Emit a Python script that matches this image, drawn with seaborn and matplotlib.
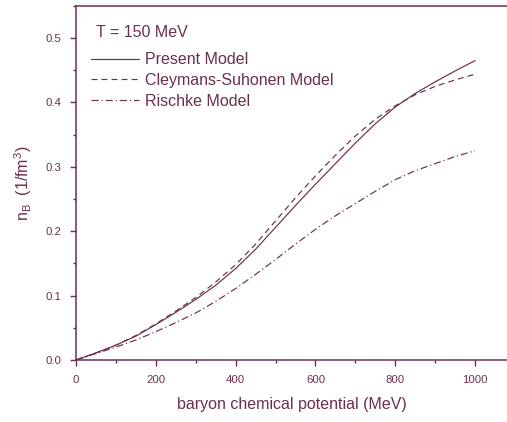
import pandas as pd
import seaborn as sns
import matplotlib.pyplot as plt
from matplotlib.ticker import MultipleLocator

# valores (T = 150 MeV)
mu = [0, 50, 100, 150, 200, 250, 300, 350, 400, 450, 500,
      550, 600, 650, 700, 750, 800, 850, 900, 950, 1000]
present = [0.000, 0.011, 0.023, 0.037, 0.055, 0.074, 0.094, 0.116, 0.142, 0.172, 0.206,
           0.240, 0.273, 0.305, 0.337, 0.367, 0.393, 0.414, 0.432, 0.449, 0.465]
cleymans = [0.000, 0.011, 0.023, 0.038, 0.056, 0.076, 0.097, 0.121, 0.148, 0.180, 0.216,
            0.252, 0.286, 0.318, 0.348, 0.374, 0.395, 0.412, 0.425, 0.435, 0.444]
rischke = [0.000, 0.010, 0.020, 0.031, 0.044, 0.058, 0.073, 0.091, 0.111, 0.133, 0.156,
           0.180, 0.203, 0.224, 0.243, 0.262, 0.280, 0.294, 0.305, 0.316, 0.325]
modelos = ['Present Model', 'Cleymans-Suhonen Model', 'Rischke Model']

cor = '#6b2f4f'

df = pd.DataFrame({
    'mu': mu * 3,
    'nB': present + cleymans + rischke,
    'modelo': [m for m in modelos for _ in mu],
})

sns.set_style('ticks')
plt.rcParams['font.family'] = ['Liberation Sans', 'DejaVu Sans']
plt.rcParams['mathtext.default'] = 'regular'

fig = plt.figure(figsize=(5.07, 4.22), dpi=100)
ax = fig.add_axes([0.150, 0.147, 0.85, 0.839])

estilos = {
    'Present Model': '',
    'Cleymans-Suhonen Model': (5, 3.5),
    'Rischke Model': (6, 2.5, 1, 2.5),
}
sns.lineplot(data=df, x='mu', y='nB', style='modelo', style_order=modelos,
             dashes=estilos, color=cor, linewidth=0.85, legend=False, ax=ax)

ax.set_xlim(0, 1080)
ax.set_ylim(0, 0.55)
ax.xaxis.set_major_locator(MultipleLocator(200))
ax.xaxis.set_minor_locator(MultipleLocator(100))
ax.yaxis.set_major_locator(MultipleLocator(0.1))
ax.yaxis.set_minor_locator(MultipleLocator(0.05))
ax.yaxis.set_major_formatter(plt.FormatStrFormatter('%.1f'))

for lado in ['left', 'bottom', 'top']:
    ax.spines[lado].set_color(cor)
    ax.spines[lado].set_linewidth(1.1)
ax.spines['right'].set_visible(False)

ax.tick_params(which='major', direction='out', length=4.5, width=1, color=cor,
               labelcolor=cor, labelsize=8.2, pad=6)
ax.tick_params(which='minor', direction='out', length=2.5, width=1, color=cor)

ax.set_xlabel('baryon chemical potential (MeV)', fontsize=11.5, color=cor, labelpad=9)
ax.set_ylabel(r'n$_B$  (1/fm$^3$)', fontsize=11.5, color=cor, labelpad=8)

ax.text(0.047, 0.925, 'T = 150 MeV', transform=ax.transAxes, fontsize=11.5,
        color=cor, ha='left', va='center')

leg = ax.legend(handles=ax.lines[:3], labels=modelos, loc='upper left',
                bbox_to_anchor=(0.028, 0.878), frameon=False, fontsize=11.5,
                handlelength=3.0, handletextpad=0.35, labelspacing=0.36,
                borderpad=0.2, borderaxespad=0)
for t in leg.get_texts():
    t.set_color(cor)

fig.savefig('out.png', dpi=100)
